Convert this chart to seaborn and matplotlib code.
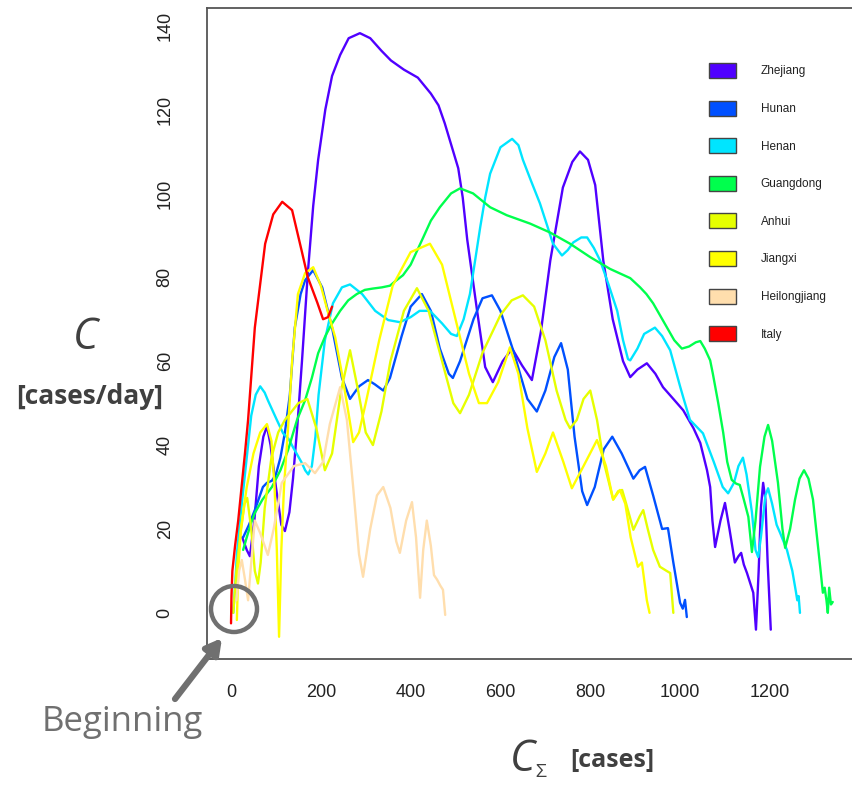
import numpy as np
import pandas as pd
import matplotlib
matplotlib.use("Agg")
import matplotlib.pyplot as plt
import seaborn as sns
from matplotlib.patches import Patch, Ellipse

# cumulative cases (x) vs daily cases (y)
zhejiang_x = [25, 35, 42, 52, 62, 72, 80, 88, 100, 112, 120, 130, 138, 148, 158, 171, 183, 194, 210, 225, 243, 262, 287,
              310, 335, 356, 385, 416, 445, 462, 476, 492, 506, 516, 526, 548, 566, 583, 605, 626, 648, 670, 690, 711,
              739, 760, 777, 795, 811, 829, 850, 873, 889, 905, 926, 945, 962, 985, 1007, 1030, 1045, 1060, 1067, 1072,
              1078, 1090, 1100, 1110, 1122, 1130, 1136, 1142, 1149, 1163, 1169, 1175, 1180, 1185, 1190, 1195, 1202]
zhejiang_y = [18, 15, 13.5, 22, 35, 42, 44.5, 40, 30, 21, 19.5, 24, 32, 45, 60, 81, 97, 108, 120, 128, 133, 137, 138.2,
              137, 134, 131.7, 129.5, 127.6, 123.8, 121, 116.7, 111, 106, 99, 89, 72, 58.6, 55, 60, 63, 59, 55.5, 67, 84,
              101.4, 107.5, 110, 108, 102, 84, 70, 60, 56.2, 58, 59.5, 57, 53.8, 51, 48.3, 44, 40.5, 34, 30, 22,
              15.7, 22, 26.2, 20, 12, 13.5, 14.3, 11.5, 9.5, 4.8, -4, 10, 25, 31, 27, 12, -4]

hunan_x = [27, 40, 53, 71, 80, 91, 100, 110, 120, 131, 142, 155, 165, 183, 203, 225, 247, 265, 285, 305, 320, 339, 354,
           380, 400, 425, 445, 465, 485, 494, 510, 540, 560, 581, 600, 630, 660, 681, 700, 720, 735, 750, 765, 782, 793,
           810, 830, 849, 870, 896, 910, 922, 940, 960, 973, 985, 1000, 1006, 1011, 1015]
hunan_y = [18, 21, 24.5, 30, 31, 31.5, 33, 37, 43, 52, 68, 76, 79.3, 81.7, 77.6, 68, 56, 51, 54, 55.5, 54.5, 53, 56,
           66, 73, 76, 72, 63, 57, 56, 60, 70, 75, 75.7, 72, 62, 51, 48, 53, 61, 64.3, 58, 42, 29, 25.7,
           30, 39, 42, 38, 32, 34, 34.8, 28, 20, 20.2, 12, 2.4, 1, 3.1, -1]

henan_x = [5, 10, 13, 24, 36, 45, 55, 65, 75, 82, 102, 116, 128, 138, 158, 165, 172, 180, 188, 195, 209, 227, 247, 265,
           292, 321, 350, 376, 400, 420, 443, 470, 490, 503, 518, 532, 545, 555, 566, 577, 600, 626, 640, 650, 668, 688,
           705, 717, 737, 750, 762, 780, 793, 808, 822, 840, 860, 873, 884, 889, 905, 920, 944, 960, 978, 1000, 1007,
           1022, 1051, 1075, 1095, 1107, 1120, 1130, 1140, 1148, 1160, 1168, 1174, 1180, 1190, 1196, 1205, 1215, 1223,
           1238, 1250, 1258, 1261, 1264, 1267]
henan_y = [0, 8, 14, 26, 38, 47, 52, 54, 52.5, 50.7, 46, 42.8, 41.5, 39.5, 35.7, 34, 33, 35, 42, 52, 65, 73.8, 77.6, 78.3,
           76, 72, 69.8, 69.3, 70.5, 72, 72, 69, 66.5, 66, 70, 76, 85, 92, 99, 104.7, 111, 113, 111.5, 108, 103, 97.6,
           92, 88, 85.2, 86.5, 88.3, 89.5, 89.5, 87, 84, 78.5, 72, 65, 60.5, 60.2, 63, 66.5, 68, 66, 62.6, 54, 51.4,
           46, 42.8, 36, 30, 28.5, 31, 35, 37, 33, 24, 15, 13.3, 18, 28, 29.7, 26, 21, 19,
           15, 10, 5, 3, 4, 0]

guangdong_x = [27, 35, 45, 53, 70, 91, 110, 127, 147, 165, 180, 194, 210, 225, 243, 261, 280, 298, 315, 336, 354, 365,
               383, 400, 428, 445, 465, 490, 510, 539, 577, 614, 640, 666, 710, 755, 800, 844, 889, 911, 925, 940, 955,
               971, 987, 1004, 1020, 1035, 1045, 1055, 1067, 1073, 1085, 1096, 1105, 1115, 1125, 1133, 1142, 1152, 1160,
               1168, 1178, 1188, 1196, 1205, 1218, 1228, 1234, 1245, 1256, 1266, 1276, 1286, 1296, 1305, 1312, 1318,
               1322, 1326, 1329, 1332, 1336, 1340]
guangdong_y = [15, 18, 21.5, 23.8, 27, 30, 34, 38.8, 46, 50.7, 56, 61.9, 66, 69, 72, 74.5, 76, 77, 77.3, 77.6, 78, 79,
               80.5, 83, 89.5, 93.5, 96.7, 100, 101.2, 100, 96.7, 94.8, 93.8, 92.8, 90.7, 88, 84.8, 82, 79.8, 77.6, 76,
               73.8, 71, 68, 65, 63, 63.5, 64.5, 64.8, 63, 60.2, 57, 50, 43, 36, 31.7, 30.8, 30.5, 27, 22.9, 14.5,
               22, 34.8, 42, 44.8, 41, 31, 20, 15.5, 20, 27, 32, 34, 32, 27, 18, 11, 4.8,
               6, 3, 0, 6, 2, 2.6]

anhui_x = [5, 12, 20, 30, 36, 45, 53, 60, 66, 75, 90, 105, 120, 150, 170, 190, 209, 225, 245, 265, 283, 300, 316, 335,
           355, 385, 414, 440, 475, 495, 510, 530, 560, 600, 625, 650, 675, 700, 725, 745, 755, 770, 785, 800, 815, 830,
           851, 862, 871, 880, 896, 910, 918, 928, 940, 955, 970, 978, 985]
anhui_y = [0, 10, 18, 26, 27.4, 20, 10, 7, 12, 25, 37, 43, 46, 50, 51, 44, 34, 38, 53, 62.6, 53, 43, 40, 48,
           60, 72, 77.4, 72, 58, 50, 47.6, 52, 62, 71, 74.5, 75.7, 73, 65, 53, 46, 44, 46, 51, 53, 46, 36,
           27, 29, 29.3, 26, 19.8, 23, 24.5, 20, 15, 11, 10, 9.5, 0]

jiangxi_x = [13, 16, 22, 35, 50, 65, 80, 90, 97, 102, 107, 112, 118, 127, 136, 149, 165, 183, 200, 215, 232, 247, 261,
             272, 285, 300, 330, 360, 400, 443, 470, 500, 530, 552, 570, 595, 621, 640, 660, 681, 700, 717, 740, 759,
             785, 815, 835, 851, 866, 878, 890, 906, 915, 926, 932]
jiangxi_y = [-1.7, 10, 20, 30, 38, 43, 45, 41, 30, 15, -5.7, 15, 30, 44, 60, 76, 81, 82.4, 78, 72, 65.7, 57, 48,
             40.7, 43, 50, 65, 78, 86, 88, 83, 70, 57, 50, 50, 55, 63.3, 57, 44, 33.6, 38, 43, 36, 29.7,
             35, 41.2, 35, 27, 29.3, 26, 18, 11, 12, 3, 0]

heilongjiang_x = [12, 18, 24, 31, 38, 45, 53, 65, 82, 95, 113, 140, 165, 187, 205, 220, 243, 258, 272, 285, 294, 310,
                  325, 339, 355, 368, 376, 390, 403, 412, 421, 428, 436, 445, 452, 459, 466, 472, 477]
heilongjiang_y = [3, 10, 12.6, 8, 3, 12, 22, 19, 13.8, 20, 31, 35, 35.7, 33.3, 36, 45, 53.8, 46, 30, 14, 8.6, 20,
                  28, 30, 25, 17, 14.3, 22, 26.4, 18, 3.6, 15, 22, 16, 9, 7.9, 6.5, 5.5, -0.5]

italy_x = [0, 1, 3, 9, 16, 31, 38, 53, 76, 94, 114, 136, 158, 171, 192, 205, 216, 225]
italy_y = [-2.5, 4, 10, 16, 22, 38, 46, 68, 88, 95, 98, 96, 86, 80, 74, 70, 70.5, 73]

regions = ["Zhejiang", "Hunan", "Henan", "Guangdong", "Anhui", "Jiangxi", "Heilongjiang", "Italy"]
colors = ["#5000FF", "#0050FF", "#00E5FF", "#00FF4D", "#E6FF00", "#FFFF00", "#FFDEAD", "#FF0000"]

series = {
    "Zhejiang": (zhejiang_x, zhejiang_y),
    "Hunan": (hunan_x, hunan_y),
    "Henan": (henan_x, henan_y),
    "Guangdong": (guangdong_x, guangdong_y),
    "Anhui": (anhui_x, anhui_y),
    "Jiangxi": (jiangxi_x, jiangxi_y),
    "Heilongjiang": (heilongjiang_x, heilongjiang_y),
    "Italy": (italy_x, italy_y),
}

df = pd.concat([pd.DataFrame({"cum": xs, "daily": ys, "region": name})
                for name, (xs, ys) in series.items()], ignore_index=True)

sns.set_style("white")
plt.rcParams["font.family"] = ["Liberation Sans", "DejaVu Sans"]

W, H = 852, 787
fig = plt.figure(figsize=(W / 100, H / 100), dpi=100)
ax = fig.add_axes([207 / W, 1 - 659 / H, (857 - 207) / W, (659 - 8) / H])

sns.lineplot(data=df, x="cum", y="daily", hue="region", hue_order=regions,
             palette=dict(zip(regions, colors)), sort=False, estimator=None,
             linewidth=1.7, legend=False, ax=ax)
for ln in ax.get_lines():
    ln.set_solid_joinstyle("round")

ax.set_xlim(-53.5, 1394)
ax.set_ylim(-11, 144.2)
ax.set_xticks(range(0, 1201, 200))
ax.set_yticks(range(0, 141, 20))
ax.set_xlabel("")
ax.set_ylabel("")
for lab in ax.get_yticklabels():
    lab.set_rotation(90)
    lab.set_va("center")
ax.tick_params(axis="both", direction="out", length=9, width=1.1, color="#555555",
               labelsize=13, labelcolor="#222222")
ax.tick_params(axis="x", pad=9)
ax.tick_params(axis="y", pad=15)
for side in ["left", "bottom", "top"]:
    ax.spines[side].set_color("#555555")
    ax.spines[side].set_linewidth(1.3)
ax.spines["right"].set_visible(False)

handles = [Patch(facecolor=c, edgecolor="#444444", linewidth=1.0, label=r)
           for r, c in zip(regions, colors)]
fig.legend(handles=handles, loc="upper left", bbox_to_anchor=(703 / W, 1 - 57 / H),
           frameon=False, fontsize=8.5, handlelength=2.3, handleheight=1.6,
           handletextpad=2.1, labelspacing=1.9, borderpad=0, labelcolor="#222222")

# axis titles drawn as free text like the original slide
lab_font = ["Open Sans", "DejaVu Sans"]
fig.text(85 / W, 1 - 338 / H, "C", fontsize=31, style="italic", color="#404040",
         ha="center", va="center", family=lab_font)
fig.text(90 / W, 1 - 397 / H, "[cases/day]", fontsize=19, weight="bold", color="#404040",
         ha="center", va="center", family=lab_font)
fig.text(522 / W, 1 - 760 / H, "C", fontsize=31, style="italic", color="#404040",
         ha="center", va="center", family=lab_font)
fig.text(541 / W, 1 - 772 / H, "Σ", fontsize=14, color="#404040",
         ha="center", va="center", family=lab_font)
fig.text(612 / W, 1 - 760 / H, "[cases]", fontsize=18, weight="bold", color="#404040",
         ha="center", va="center", family=lab_font)

# "Beginning" callout
grey = "#707070"
fig.text(122 / W, 1 - 722 / H, "Beginning", fontsize=25, color=grey,
         ha="center", va="center", family=lab_font)
fig.add_artist(Ellipse((234 / W, 1 - 609 / H), 46 / W, 46 / H, transform=fig.transFigure,
                       fill=False, edgecolor=grey, linewidth=3.2))
ax.annotate("", xy=(222 / W, 1 - 638 / H), xytext=(175 / W, 1 - 699 / H),
            xycoords="figure fraction", textcoords="figure fraction",
            arrowprops=dict(arrowstyle="-|>,head_length=0.9,head_width=0.5",
                            color=grey, linewidth=4.5, shrinkA=0, shrinkB=0))

fig.savefig("out.png", dpi=100)
